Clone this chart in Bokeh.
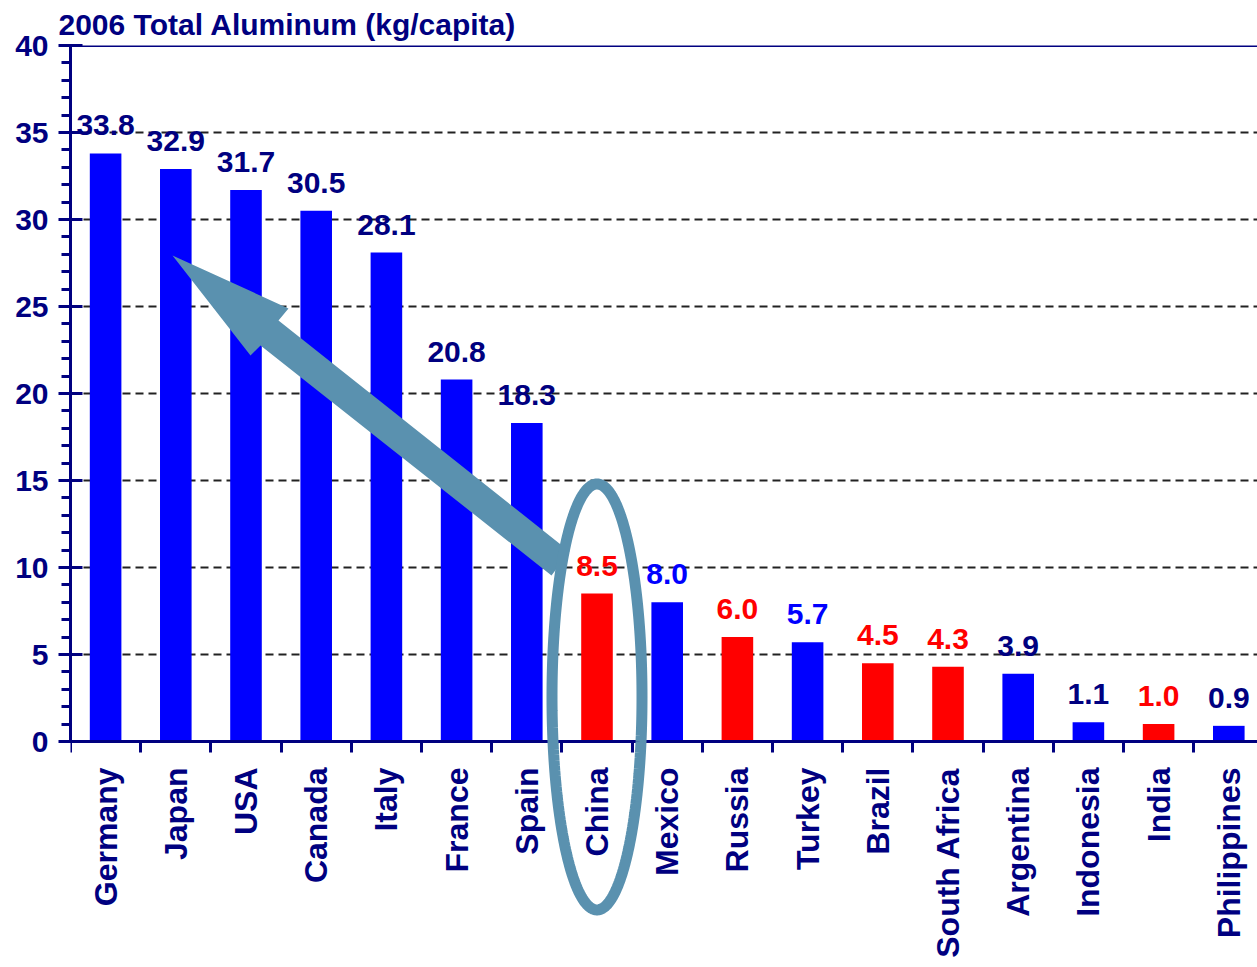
import numpy as np
from bokeh.plotting import figure
from bokeh.models import Range1d, FixedTicker, Span, PolyAnnotation, ColumnDataSource
from bokeh.embed import file_html
from bokeh.resources import INLINE
from bokeh.core.properties import value

# ---------------- data ----------------
countries = ["Germany", "Japan", "USA", "Canada", "Italy", "France", "Spain",
             "China", "Mexico", "Russia", "Turkey", "Brazil", "South Africa",
             "Argentina", "Indonesia", "India", "Philippines"]
aluminum_kg = [33.8, 32.9, 31.7, 30.5, 28.1, 20.8, 18.3,
               8.5, 8.0, 6.0, 5.7, 4.5, 4.3,
               3.9, 1.1, 1.0, 0.9]
group = ["other", "other", "other", "other", "other", "other", "other",
         "BRICS", "emerging", "BRICS", "emerging", "BRICS", "BRICS",
         "other", "other", "BRICS", "other"]
y_ticks = [0, 5, 10, 15, 20, 25, 30, 35, 40]
grid_ticks = [5, 10, 15, 20, 25, 30, 35]
title_text = "2006 Total Aluminum (kg/capita)"

# ---------------- style ----------------
NAVY = "#000080"
BLUE = "#0000FF"
RED = "#FF0000"
ARROW = "#5A91AF"
FONT = "Liberation Sans"
bar_color = {"other": BLUE, "emerging": BLUE, "BRICS": RED}
label_color = {"other": NAVY, "emerging": BLUE, "BRICS": RED}

n = len(countries)
centers = [i + 0.5 for i in range(n)]
src = ColumnDataSource(dict(
    x=centers,
    top=aluminum_kg,
    label=["%.1f" % v for v in aluminum_kg],
    bar_color=[bar_color[g] for g in group],
    label_color=[label_color[g] for g in group],
))

W, H = 1257, 967
LEFT, TOP, ZERO_Y = 70, 45, 741
PX_X, PX_Y = 70.2, 17.4
x_end = (W - LEFT) / PX_X
y_start = -(H - ZERO_Y) / PX_Y

p = figure(width=W, height=H, output_backend="svg", toolbar_location=None,
           x_range=Range1d(0, x_end), y_range=Range1d(y_start, 40),
           min_border_left=LEFT, min_border_right=0, min_border_top=TOP,
           min_border_bottom=0, outline_line_color=None,
           background_fill_color="white", border_fill_color="white")

p.title.text = title_text
p.title.text_font = FONT
p.title.text_font_style = "bold"
p.title.text_font_size = "30px"
p.title.text_color = NAVY
p.title.align = "left"
p.title.offset = -12
p.title.standoff = 10

# grid
p.xgrid.visible = False
p.ygrid.ticker = FixedTicker(ticks=grid_ticks)
p.ygrid.grid_line_color = "#222222"
p.ygrid.grid_line_width = 2
p.ygrid.grid_line_dash = "8 5"

# bars
p.vbar(x="x", top="top", width=0.45, bottom=0, source=src,
       fill_color="bar_color", line_color=None)

# value labels
p.text(x="x", y="top", text="label", source=src, text_color="label_color",
       text_font=value(FONT), text_font_style="bold", text_font_size="30px",
       text_align="center", text_baseline="bottom", y_offset=-18)

# top border line
p.add_layout(Span(location=40, dimension="width", line_color=NAVY, line_width=3))

# y axis
ya = p.yaxis[0]
ya.ticker = FixedTicker(ticks=y_ticks, minor_ticks=list(range(0, 41)))
ya.bounds = (0, 40)
ya.axis_line_color = NAVY
ya.axis_line_width = 3
ya.major_tick_line_color = NAVY
ya.major_tick_line_width = 3
ya.major_tick_in = 12
ya.major_tick_out = 12
ya.minor_tick_line_color = NAVY
ya.minor_tick_line_width = 3
ya.minor_tick_in = 0
ya.minor_tick_out = 9
ya.major_label_text_font = FONT
ya.major_label_text_font_style = "bold"
ya.major_label_text_font_size = "30px"
ya.major_label_text_color = NAVY
ya.major_label_standoff = 10

# x axis, pinned at y = 0 so that the annotations below it are not clipped
xa = p.xaxis[0]
xa.fixed_location = 0
xa.ticker = FixedTicker(ticks=centers, minor_ticks=list(range(0, n + 1)))
xa.major_label_overrides = {float(c): name for c, name in zip(centers, countries)}
xa.major_label_orientation = np.pi / 2
xa.axis_line_color = NAVY
xa.axis_line_width = 3
xa.major_tick_in = 0
xa.major_tick_out = 0
xa.major_tick_line_color = None
xa.minor_tick_line_color = NAVY
xa.minor_tick_line_width = 3
xa.minor_tick_in = 0
xa.minor_tick_out = 11
xa.major_label_text_font = FONT
xa.major_label_text_font_style = "bold"
xa.major_label_text_font_size = "32px"
xa.major_label_text_color = NAVY
xa.major_label_standoff = 15

# arrow annotation (data coordinates)
arrow_x = [7.108, 2.963, 3.105, 1.453, 2.564, 2.707, 6.852]
arrow_y = [10.92, 24.20, 24.89, 27.93, 22.18, 22.76, 9.54]
p.add_layout(PolyAnnotation(xs=arrow_x, ys=arrow_y, fill_color=ARROW,
                            fill_alpha=1.0, line_color=None))

# ellipse annotation around China
cx, cy, ax_, by_ = 7.5, 2.56, 0.641, 12.24
t = np.linspace(0, 2 * np.pi, 240)
p.add_layout(PolyAnnotation(xs=list(cx + ax_ * np.cos(t)), ys=list(cy + by_ * np.sin(t)),
                            fill_color=None, fill_alpha=0, line_color=ARROW,
                            line_alpha=1.0, line_width=11))

open("out.html", "w").write(file_html(p, INLINE))
